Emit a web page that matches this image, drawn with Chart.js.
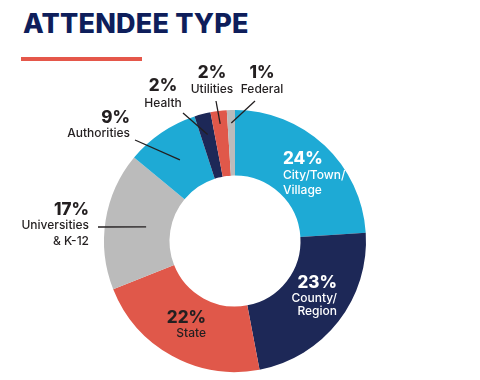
<!DOCTYPE html>
<html>
<head>
<meta charset="utf-8">
<script src="https://cdn.jsdelivr.net/npm/chart.js@4"></script>
<style>
  html,body{margin:0;padding:0;background:#fff;}
  #wrap{position:relative;width:480px;height:380px;overflow:hidden;}
  #title{position:absolute;left:23px;top:7px;margin:0;font-family:Inter,"DejaVu Sans",sans-serif;font-weight:800;font-size:27px;letter-spacing:0.2px;color:#0E1E5B;white-space:nowrap;line-height:34px;}
  #rule{position:absolute;left:21px;top:57px;width:121px;height:4px;background:#E5574A;}
  canvas{position:absolute;left:0;top:0;}
</style>
</head>
<body>
<div id="wrap">
  <h1 id="title">ATTENDEE TYPE</h1>
  <div id="rule"></div>
  <canvas id="c" width="480" height="380"></canvas>
</div>
<script>
const categories = ["City/Town/Village","County/Region","State","Universities & K-12","Authorities","Health","Utilities","Federal"];
const values = [24, 23, 22, 17, 9, 2, 2, 1];
const percentLabels = ["24%","23%","22%","17%","9%","2%","2%","1%"];
const nameLines = [["City/Town/","Village"],["County/","Region"],["State"],["Universities","& K-12"],["Authorities"],["Health"],["Utilities"],["Federal"]];
const colors = ["#1EAAD5","#1D2857","#E0584A","#BBBBBB","#1EAAD5","#1D2857","#E0584A","#BBBBBB"];

// label layout (offsets from doughnut centre, px)
const labelLayout = [
  {dx:48, dy:-82, align:"left", color:"#FFFFFF", gap:[16,15]},
  {dx:102, dy:42, align:"right", color:"#FFFFFF", gap:[15,13]},
  {dx:-29, dy:77, align:"right", color:"#231F20", gap:[15]},
  {dx:-146, dy:-31, align:"right", color:"#231F20", gap:[15,16], line:{r:90, ex:-137, ey:-14}},
  {dx:-105, dy:-123, align:"right", color:"#231F20", gap:[15], line:{r:98, ex:-100, ey:-101}},
  {dx:-72, dy:-155, align:"center", color:"#231F20", gap:[17], line:{r:110, ex:-52, ey:-128}},
  {dx:-23, dy:-168, align:"center", color:"#231F20", gap:[16], line:{r:118, ex:-19, ey:-140}},
  {dx:27, dy:-168, align:"center", color:"#231F20", gap:[16], line:{r:118, ex:20, ey:-140}}
];

const labelPlugin = {
  id:"labels",
  afterDatasetsDraw(chart){
    const ctx = chart.ctx;
    const meta = chart.getDatasetMeta(0);
    meta.data.forEach((arc,i)=>{
      const L = labelLayout[i];
      const cx = arc.x, cy = arc.y;
      ctx.save();
      if (L.line){
        const mid = (arc.startAngle + arc.endAngle)/2;
        const sx = cx + Math.cos(mid)*L.line.r, sy = cy + Math.sin(mid)*L.line.r;
        ctx.strokeStyle = "#231F20";
        ctx.lineWidth = 1.3;
        ctx.beginPath();
        ctx.moveTo(sx, sy);
        ctx.lineTo(cx + L.line.ex, cy + L.line.ey);
        ctx.stroke();
      }
      ctx.fillStyle = L.color;
      ctx.textAlign = L.align;
      ctx.textBaseline = "middle";
      let y = cy + L.dy;
      ctx.font = "800 17px Inter, 'DejaVu Sans', sans-serif";
      ctx.fillText(percentLabels[i], cx + L.dx, y);
      ctx.font = "500 12px Inter, 'DejaVu Sans', sans-serif";
      nameLines[i].forEach((t,k)=>{
        y += L.gap[k];
        ctx.fillText(t, cx + L.dx, y);
      });
      ctx.restore();
    });
  }
};

new Chart(document.getElementById("c"), {
  type:"doughnut",
  data:{
    labels: categories,
    datasets:[{data: values, backgroundColor: colors, borderWidth: 0, hoverOffset: 0}]
  },
  options:{
    responsive:false,
    animation:false,
    cutout:"50%",
    rotation:0,
    layout:{padding:{left:104, right:114, top:110, bottom:8}},
    plugins:{legend:{display:false}, tooltip:{enabled:false}, title:{display:false}}
  },
  plugins:[labelPlugin]
});
</script>
</body>
</html>
